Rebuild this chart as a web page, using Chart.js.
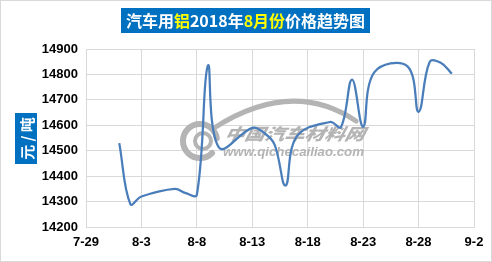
<!DOCTYPE html>
<html>
<head>
<meta charset="utf-8">
<script src="https://cdn.jsdelivr.net/npm/chart.js@4.4.1/dist/chart.umd.min.js"></script>
<style>
    body { margin: 0; background: #fff; }
    #wrap { width: 492px; height: 262px; }
</style>
</head>
<body>
<div id="wrap"><canvas id="chart" width="492" height="262"></canvas></div>
<script>
// Aluminium price, August 2018 (yuan / ton)
const dates = ['8-1', '8-2', '8-3', '8-6', '8-7', '8-8', '8-9', '8-10',
    '8-13', '8-14', '8-15', '8-16', '8-17', '8-20', '8-21', '8-22', '8-23',
    '8-24', '8-27', '8-28', '8-29', '8-30', '8-31'];
const prices = [14530, 14290, 14320, 14350, 14333, 14327, 14835, 14512,
    14590, 14572, 14525, 14363, 14555, 14613, 14593, 14780, 14594,
    14808, 14832, 14653, 14849, 14846, 14803];
const xTickLabels = ['7-29', '8-3', '8-8', '8-13', '8-18', '8-23', '8-28', '9-2'];
const yTicks = [14200, 14300, 14400, 14500, 14600, 14700, 14800, 14900];

const titleParts = [
    ['汽车用', '#ffffff'], ['铝', '#ffff00'], ['2018年', '#ffffff'],
    ['8月份', '#ffff00'], ['价格趋势图', '#ffffff']
];
const axisTitle = '元 / 吨';

// day offset from 7-29
function dayOffset(md) {
    const [m, d] = md.split('-').map(Number);
    const base = Date.UTC(2018, 6, 29);
    return Math.round((Date.UTC(2018, m - 1, d) - base) / 86400000);
}

const points = dates.map((d, i) => ({ x: dayOffset(d), y: prices[i] }));

const decorPlugin = {
    id: 'decor',
    beforeDraw(chart) {
        const ctx = chart.ctx;
        ctx.save();
        ctx.fillStyle = '#ffffff';
        ctx.fillRect(0, 0, chart.width, chart.height);
        ctx.strokeStyle = '#d9d9d9';
        ctx.lineWidth = 1;
        ctx.strokeRect(0.5, 0.5, chart.width - 1, chart.height - 1);
        ctx.restore();
    },
    beforeDatasetsDraw(chart) {
        // watermark
        const ctx = chart.ctx;
        ctx.save();
        ctx.strokeStyle = '#b4b4b4';
        ctx.fillStyle = '#b4b4b4';
        ctx.lineCap = 'round';
        ctx.lineWidth = 6;
        ctx.beginPath();
        ctx.arc(200, 141, 17, 0.25 * Math.PI, 1.95 * Math.PI);
        ctx.stroke();
        ctx.lineWidth = 4;
        ctx.beginPath();
        ctx.arc(203, 141, 8, 0, 2 * Math.PI);
        ctx.stroke();
        ctx.lineWidth = 5;
        ctx.beginPath();
        ctx.moveTo(214, 128);
        ctx.quadraticCurveTo(292, 78, 356, 121);
        ctx.stroke();

        ctx.font = 'italic 900 18px "Noto Sans CJK SC"';
        ctx.textBaseline = 'middle';
        let w = ctx.measureText('中国汽车材料网').width;
        ctx.save();
        ctx.translate(225, 134);
        ctx.transform(140 / w, 0, -0.2, 0.9, 0, 0);
        ctx.fillText('中国汽车材料网', 0, 0);
        ctx.restore();
        ctx.font = 'italic bold 12px "Liberation Sans"';
        w = ctx.measureText('www.qichecailiao.com').width;
        ctx.save();
        ctx.translate(223, 153);
        ctx.scale(141 / w, 1);
        ctx.fillText('www.qichecailiao.com', 0, 0);
        ctx.restore();
        ctx.restore();
    },
    afterDraw(chart) {
        const ctx = chart.ctx;
        ctx.save();
        // title box
        ctx.fillStyle = '#0070c0';
        ctx.fillRect(121, 8, 249, 25);
        ctx.font = 'bold 16px "Noto Sans CJK SC"';
        ctx.textBaseline = 'middle';
        const total = titleParts.reduce((s, p) => s + ctx.measureText(p[0]).width, 0);
        let x = 245.5 - total / 2;
        titleParts.forEach(([txt, col]) => {
            ctx.fillStyle = col;
            ctx.fillText(txt, x, 21);
            x += ctx.measureText(txt).width;
        });
        // axis title box
        ctx.fillStyle = '#0070c0';
        ctx.fillRect(15, 113, 22, 51);
        ctx.translate(26, 138.5);
        ctx.rotate(-Math.PI / 2);
        ctx.fillStyle = '#ffffff';
        ctx.font = 'bold 15px "Noto Sans CJK SC"';
        ctx.textAlign = 'center';
        ctx.fillText(axisTitle, 0, 1);
        ctx.restore();
    }
};

const tickFont = { family: '"Liberation Sans", Arial, sans-serif', size: 13, weight: 'bold' };

new Chart(document.getElementById('chart'), {
    type: 'line',
    data: {
        datasets: [{
            data: points,
            borderColor: '#4a7ebb',
            borderWidth: 2.25,
            pointRadius: 0,
            tension: 0.4,
            fill: false
        }]
    },
    options: {
        responsive: false,
        animation: false,
        layout: { padding: { top: 49, right: 18, left: 0, bottom: 0 } },
        plugins: { legend: { display: false }, tooltip: { enabled: false } },
        scales: {
            x: {
                type: 'linear',
                min: 0,
                max: 35,
                afterBuildTicks: (s) => { s.ticks = xTickLabels.map((t, i) => ({ value: i * 5 })); },
                afterFit: (s) => { s.height = 35; },
                ticks: {
                    color: '#000',
                    font: tickFont,
                    padding: 8,
                    maxRotation: 0,
                    autoSkip: false,
                    callback: (v) => xTickLabels[v / 5]
                },
                grid: { color: '#d9d9d9', drawTicks: false },
                border: { color: '#d9d9d9' }
            },
            y: {
                min: yTicks[0],
                max: yTicks[yTicks.length - 1],
                afterBuildTicks: (s) => { s.ticks = yTicks.map(v => ({ value: v })); },
                afterFit: (s) => { s.width = 86; },
                ticks: {
                    color: '#000',
                    font: tickFont,
                    padding: 8,
                    callback: (v) => String(v)
                },
                grid: { color: '#d9d9d9', drawTicks: false },
                border: { color: '#d9d9d9' }
            }
        }
    },
    plugins: [decorPlugin]
});
</script>
</body>
</html>
